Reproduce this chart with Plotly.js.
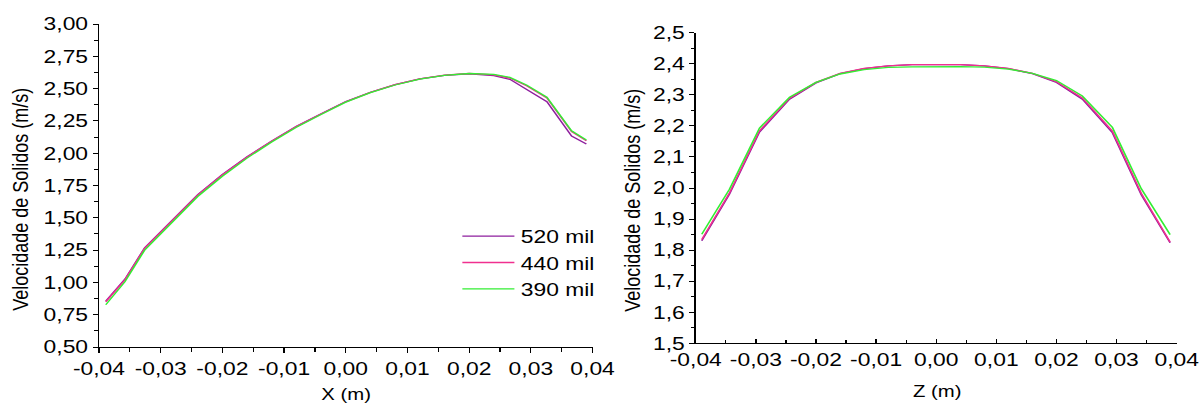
<!DOCTYPE html>
<html>
<head>
<meta charset="utf-8">
<script src="https://cdn.plot.ly/plotly-3.0.1.min.js"></script>
<style>
  html, body { margin: 0; padding: 0; background: #fff; overflow: hidden; }
  #chart { width: 945px; height: 405px; transform: scaleX(1.26984); transform-origin: 0 0; }
</style>
</head>
<body>
<div id="chart"></div>
<script>
// ---- data ----
var seriesNames = ['520 mil', '440 mil', '390 mil'];
var seriesColors = ['#8E1E9E', '#F0308F', '#33EE33'];

// Left panel: velocity vs X (m)
var xPos = [-0.0389, -0.0358, -0.0326, -0.030, -0.027, -0.024, -0.020, -0.016, -0.012, -0.008, -0.004, 0.000,
            0.004, 0.008, 0.012, 0.016, 0.020, 0.024, 0.0266, 0.0293, 0.0326, 0.0366, 0.039];
var velX520 = [0.856, 1.025, 1.268, 1.392, 1.535, 1.680, 1.835, 1.972, 2.095, 2.208, 2.306, 2.400,
               2.472, 2.530, 2.575, 2.603, 2.615, 2.600, 2.572, 2.495, 2.399, 2.133, 2.071];
var velX440 = [0.850, 1.020, 1.263, 1.387, 1.530, 1.676, 1.831, 1.969, 2.093, 2.206, 2.304, 2.398,
               2.471, 2.530, 2.575, 2.604, 2.617, 2.606, 2.582, 2.522, 2.428, 2.168, 2.097];
var velX390 = [0.827, 1.005, 1.250, 1.374, 1.518, 1.665, 1.822, 1.962, 2.087, 2.201, 2.300, 2.395,
               2.469, 2.528, 2.574, 2.603, 2.617, 2.610, 2.587, 2.528, 2.433, 2.174, 2.102];

// Right panel: velocity vs Z (m)
var zPos = [-0.0390, -0.0344, -0.0294, -0.0244, -0.020, -0.016, -0.012, -0.008, -0.004, 0.000,
            0.004, 0.008, 0.012, 0.016, 0.020, 0.0243, 0.0293, 0.0341, 0.0389];
var velZ520 = [1.830, 1.980, 2.180, 2.286, 2.338, 2.368, 2.384, 2.393, 2.397, 2.398,
               2.397, 2.393, 2.384, 2.368, 2.340, 2.286, 2.178, 1.978, 1.824];
var velZ440 = [1.834, 1.984, 2.184, 2.289, 2.340, 2.369, 2.385, 2.393, 2.397, 2.398,
               2.397, 2.393, 2.385, 2.369, 2.342, 2.290, 2.183, 1.983, 1.826];
var velZ390 = [1.851, 1.996, 2.193, 2.292, 2.340, 2.367, 2.381, 2.388, 2.390, 2.391,
               2.391, 2.389, 2.383, 2.369, 2.346, 2.296, 2.195, 1.998, 1.850];

// tick labels
var xTickVals = [-0.04, -0.03, -0.02, -0.01, 0, 0.01, 0.02, 0.03, 0.04];
var xTickText = ['-0,04', '-0,03', '-0,02', '-0,01', '0,00', '0,01', '0,02', '0,03', '0,04'];
var yLeftTickVals = [0.5, 0.75, 1.0, 1.25, 1.5, 1.75, 2.0, 2.25, 2.5, 2.75, 3.0];
var yLeftTickText = ['0,50', '0,75', '1,00', '1,25', '1,50', '1,75', '2,00', '2,25', '2,50', '2,75', '3,00'];
var yRightTickVals = [1.5, 1.6, 1.7, 1.8, 1.9, 2.0, 2.1, 2.2, 2.3, 2.4, 2.5];
var yRightTickText = ['1,5', '1,6', '1,7', '1,8', '1,9', '2,0', '2,1', '2,2', '2,3', '2,4', '2,5'];

var xTitle = 'X (m)';
var zTitle = 'Z (m)';
var yTitle = 'Velocidade de Solidos (m/s)';

// ---- traces ----
var leftY = [velX520, velX440, velX390];
var rightY = [velZ520, velZ440, velZ390];
var traces = [];
for (var i = 0; i < seriesNames.length; i++) {
  traces.push({
    x: xPos, y: leftY[i], xaxis: 'x', yaxis: 'y', type: 'scatter', mode: 'lines',
    name: seriesNames[i], legendgroup: seriesNames[i], showlegend: true,
    line: {color: seriesColors[i], width: 1.3}
  });
}
for (var j = 0; j < seriesNames.length; j++) {
  traces.push({
    x: zPos, y: rightY[j], xaxis: 'x2', yaxis: 'y2', type: 'scatter', mode: 'lines',
    name: seriesNames[j], legendgroup: seriesNames[j], showlegend: false,
    line: {color: seriesColors[j], width: 1.3}
  });
}

var font = 'Liberation Sans, Arial, sans-serif';
function axisBase() {
  return {
    showgrid: false, zeroline: false, showline: true, linecolor: '#000', linewidth: 1,
    ticks: 'outside', ticklen: 5, tickwidth: 1, tickcolor: '#000',
    tickfont: {family: font, size: 18, color: '#000'},
    mirror: false, fixedrange: true
  };
}

var xa = axisBase();
Object.assign(xa, {domain: [0.0825, 0.4938], range: [-0.04, 0.04], tickmode: 'array',
  tickvals: xTickVals, ticktext: xTickText, minor: {dtick: 0.005, ticks: 'outside', ticklen: 4, tickcolor: '#000'}, anchor: 'y'});
var ya = axisBase();
Object.assign(ya, {domain: [0.1432, 0.9407], range: [0.5, 3.0], tickmode: 'array',
  tickvals: yLeftTickVals, ticktext: yLeftTickText, ticklen: 4, minor: {dtick: 0.125, ticks: 'outside', ticklen: 3, tickcolor: '#000'}, anchor: 'x'});
var xa2 = axisBase();
Object.assign(xa2, {domain: [0.5798, 0.9806], range: [-0.04, 0.04], tickmode: 'array',
  tickvals: xTickVals, ticktext: xTickText, ticks: 'inside', ticklen: 4,
  minor: {dtick: 0.005, ticks: 'inside', ticklen: 3, tickcolor: '#000'}, anchor: 'y2'});
var ya2 = axisBase();
Object.assign(ya2, {domain: [0.1523, 0.9193], range: [1.5, 2.5], tickmode: 'array',
  tickvals: yRightTickVals, ticktext: yRightTickText, ticklen: 4, minor: {dtick: 0.05, ticks: 'outside', ticklen: 3, tickcolor: '#000'}, anchor: 'x2'});

var layout = {
  width: 945, height: 405,
  margin: {l: 0, r: 0, t: 0, b: 0, pad: 0},
  paper_bgcolor: '#fff', plot_bgcolor: '#fff',
  font: {family: font, size: 18, color: '#000'},
  separators: ',.',
  xaxis: xa, yaxis: ya, xaxis2: xa2, yaxis2: ya2,
  showlegend: true,
  legend: {x: 0.380, y: 0.462, xanchor: 'left', yanchor: 'top', bgcolor: 'rgba(0,0,0,0)',
           font: {family: font, size: 18, color: '#000'}, itemwidth: 41, tracegroupgap: 0},
  annotations: [
    {text: yTitle, xref: 'paper', yref: 'paper', x: 0.0167, y: 0.5086, xanchor: 'center', yanchor: 'middle',
     textangle: -90, showarrow: false, font: {family: font, size: 18, color: '#000'}},
    {text: yTitle, xref: 'paper', yref: 'paper', x: 0.527, y: 0.504, xanchor: 'center', yanchor: 'middle',
     textangle: -90, showarrow: false, font: {family: font, size: 18, color: '#000'}},
    {text: xTitle, xref: 'paper', yref: 'paper', x: 0.288, y: 0.0, xanchor: 'center', yanchor: 'bottom',
     showarrow: false, font: {family: font, size: 16, color: '#000'}},
    {text: zTitle, xref: 'paper', yref: 'paper', x: 0.7806, y: 0.034, xanchor: 'center', yanchor: 'middle',
     showarrow: false, font: {family: font, size: 16, color: '#000'}}
  ]
};

Plotly.newPlot('chart', traces, layout, {staticPlot: true, displayModeBar: false});
</script>
</body>
</html>
